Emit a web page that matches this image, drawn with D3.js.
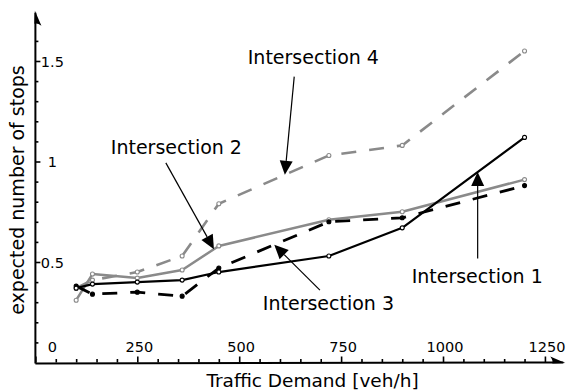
<!DOCTYPE html>
<html>
<head>
<meta charset="utf-8">
<script src="https://cdn.jsdelivr.net/npm/d3@7"></script>
<style>
  html, body { margin: 0; padding: 0; background: #fff; }
  svg { display: block; font-family: "DejaVu Sans", sans-serif; }
</style>
</head>
<body>
<svg id="chart" width="568" height="392"></svg>
<script>
// Traffic demand levels (veh/h) at which the stops were evaluated
const demand = [100, 140, 250, 360, 450, 720, 900, 1200];

// Expected number of stops per intersection
const int1 = [0.37, 0.39, 0.40, 0.41, 0.45, 0.53, 0.67, 1.12];
const int2 = [0.31, 0.44, 0.42, 0.46, 0.58, 0.71, 0.75, 0.91];
const int3 = [0.38, 0.34, 0.35, 0.33, 0.47, 0.70, 0.72, 0.88];
const int4 = [0.37, 0.41, 0.45, 0.53, 0.79, 1.03, 1.08, 1.55];

// Axis ticks
const xMajorTicks = [0, 250, 500, 750, 1000, 1250];
const xMinorTicks = d3.range(50, 1300, 50).filter(v => v % 250 !== 0);
const yMajorTicks = [0.5, 1, 1.5];
const yMinorTicks = d3.range(1, 17).map(i => i / 10).filter(v => Math.abs(v * 2 - Math.round(v * 2)) > 1e-6);

// Callout labels: text, series, demand where the arrow touches, tail and label anchor (data units)
const callouts = [
  { text: "Intersection 4", series: "int4", at: 612, tail: [635, 1.422], label: [521, 1.485] },
  { text: "Intersection 2", series: "int2", at: 438, tail: [320, 0.993], label: [185, 1.037] },
  { text: "Intersection 3", series: "int3", at: 586, tail: [698, 0.360], label: [558, 0.261] },
  { text: "Intersection 1", series: "int1", at: 1085, tail: [1085, 0.518], label: [923, 0.397] }
];

const seriesValues = { int1, int2, int3, int4 };
const seriesStyle = [
  { key: "int4", color: "#8a8a8a", width: 2.6, dash: "15,13", dotFill: "#fff" },
  { key: "int2", color: "#8a8a8a", width: 2.5, dash: null, dotFill: "#fff" },
  { key: "int3", color: "#000", width: 2.8, dash: "15,13", dotFill: "#000" },
  { key: "int1", color: "#000", width: 2.2, dash: null, dotFill: "#fff" }
];

const svg = d3.select("#chart");
const x = d3.scaleLinear().domain([0, 1300]).range([35.4, 565.3]);
const y = d3.scaleLinear().domain([0, 1.75]).range([362.5, 10.75]);
const x0 = x(0), y0 = y(0);

// Minor ticks (no labels)
svg.append("g")
  .attr("transform", `translate(0,${y0})`)
  .call(d3.axisTop(x).tickValues(xMinorTicks).tickSize(3.5).tickFormat(""))
  .call(g => g.select(".domain").remove())
  .call(g => g.selectAll("line").attr("stroke-width", 1.6));

svg.append("g")
  .attr("transform", `translate(${x0},0)`)
  .call(d3.axisRight(y).tickValues(yMinorTicks).tickSize(3).tickFormat(""))
  .call(g => g.select(".domain").remove())
  .call(g => g.selectAll("line").attr("stroke-width", 1.6));

// Major ticks with labels, drawn inside the plot area
svg.append("g")
  .attr("transform", `translate(0,${y0})`)
  .call(d3.axisTop(x).tickValues(xMajorTicks).tickSize(6).tickPadding(5).tickFormat(d3.format("d")))
  .call(g => g.select(".domain").remove())
  .call(g => g.selectAll("line").attr("stroke-width", 1.6))
  .call(g => g.selectAll("text")
    .attr("font-family", "DejaVu Sans, sans-serif")
    .attr("font-size", 14.5)
    .attr("fill", "#000")
    .attr("dx", d => d === 0 ? 16.5 : 1.5));

svg.append("g")
  .attr("transform", `translate(${x0},0)`)
  .call(d3.axisRight(y).tickValues(yMajorTicks).tickSize(5).tickFormat(d3.format("")))
  .call(g => g.select(".domain").remove())
  .call(g => g.selectAll("line").attr("stroke-width", 1.6))
  .call(g => g.selectAll("text")
    .attr("font-family", "DejaVu Sans, sans-serif")
    .attr("font-size", 14.5)
    .attr("fill", "#000")
    .attr("text-anchor", "middle")
    .attr("x", 17)
    .attr("dy", "0.36em"));

// Axis lines with half arrowheads
const xEnd = x(1300), yEnd = y(1.75);
svg.append("line").attr("x1", x0).attr("y1", y0 + 1).attr("x2", xEnd - 2).attr("y2", y0)
  .attr("stroke", "#000").attr("stroke-width", 2);
svg.append("line").attr("x1", x0).attr("y1", y0 + 1).attr("x2", x0).attr("y2", yEnd + 2)
  .attr("stroke", "#000").attr("stroke-width", 2);
svg.append("path")
  .attr("d", `M${xEnd},${y0 + 0.5} L${xEnd - 15},${y0 - 6} Q${xEnd - 12},${y0 - 2} ${xEnd - 13},${y0 + 1} Z`)
  .attr("fill", "#000");
svg.append("path")
  .attr("d", `M${x0 - 0.5},${yEnd} L${x0 + 6},${yEnd + 15} Q${x0 + 2},${yEnd + 12} ${x0 - 1},${yEnd + 13} Z`)
  .attr("fill", "#000");

// Series lines and markers
const line = d3.line().x((d, i) => x(demand[i])).y(d => y(d));
const plot = svg.append("g");
seriesStyle.forEach(s => {
  const vals = seriesValues[s.key];
  plot.append("path")
    .datum(vals)
    .attr("d", line)
    .attr("fill", "none")
    .attr("stroke", s.color)
    .attr("stroke-width", s.width)
    .attr("stroke-dasharray", s.dash)
    .attr("stroke-linejoin", "round");
  plot.selectAll(null)
    .data(vals)
    .join("circle")
    .attr("cx", (d, i) => x(demand[i]))
    .attr("cy", d => y(d))
    .attr("r", 2)
    .attr("fill", s.dotFill)
    .attr("stroke", s.color)
    .attr("stroke-width", 1.1);
});

// Value of a series at an arbitrary demand (linear between evaluated points)
function valueAt(key, d) {
  return d3.scaleLinear().domain(demand).range(seriesValues[key]).clamp(true)(d);
}

// Callouts
const notes = svg.append("g");
callouts.forEach(c => {
  const tx = x(c.at), ty = y(valueAt(c.series, c.at));
  const sx = x(c.tail[0]), sy = y(c.tail[1]);
  const ang = Math.atan2(ty - sy, tx - sx);
  const headLen = 14, headHalf = 6.5;
  const bx = tx - headLen * Math.cos(ang), by = ty - headLen * Math.sin(ang);
  const px = -Math.sin(ang) * headHalf, py = Math.cos(ang) * headHalf;
  notes.append("line")
    .attr("x1", sx).attr("y1", sy).attr("x2", bx).attr("y2", by)
    .attr("stroke", "#000").attr("stroke-width", 1.2);
  notes.append("path")
    .attr("d", `M${tx},${ty} L${bx + px},${by + py} L${bx - px},${by - py} Z`)
    .attr("fill", "#000");
  notes.append("text")
    .attr("x", x(c.label[0]))
    .attr("y", y(c.label[1]))
    .attr("font-size", 19)
    .attr("fill", "#000")
    .text(c.text);
});

// Axis titles
svg.append("text")
  .attr("x", 312.5).attr("y", 386.5)
  .attr("text-anchor", "middle")
  .attr("font-size", 18.5)
  .text("Traffic Demand [veh/h]");
svg.append("text")
  .attr("transform", "translate(23.5,190) rotate(-90)")
  .attr("text-anchor", "middle")
  .attr("font-size", 19)
  .text("expected number of stops");
</script>
</body>
</html>
